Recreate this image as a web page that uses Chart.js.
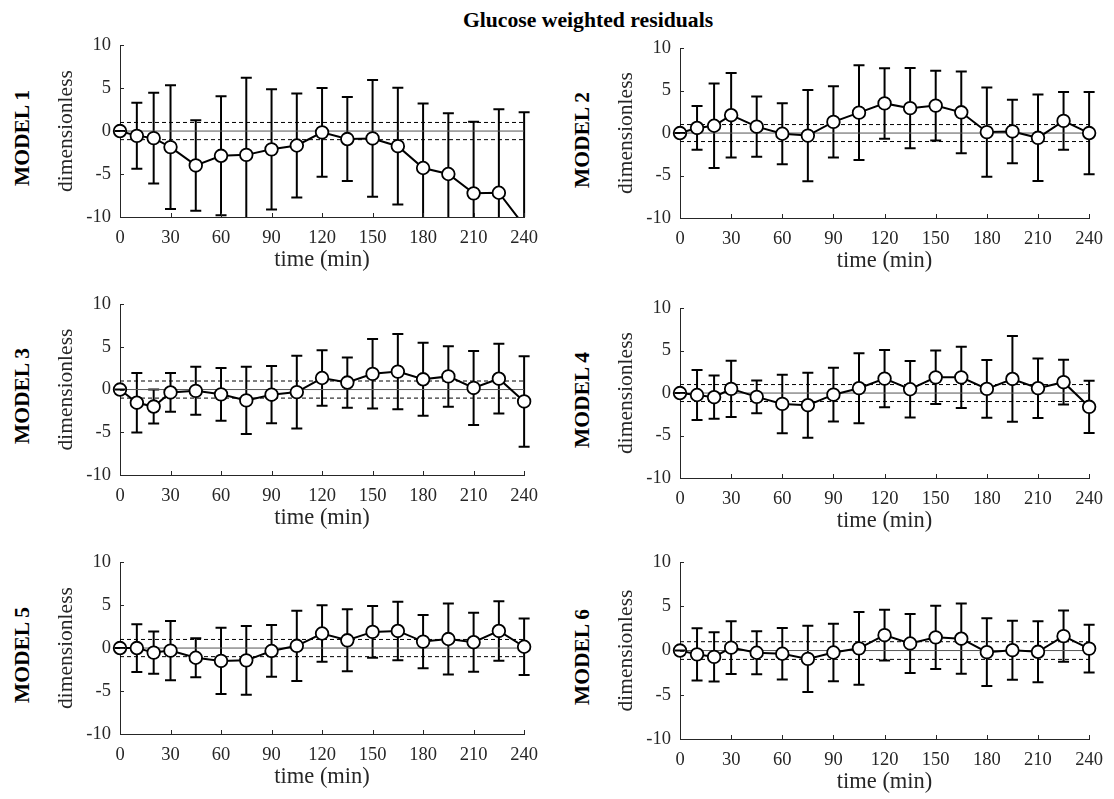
<!DOCTYPE html>
<html><head><meta charset="utf-8">
<script src="https://cdn.jsdelivr.net/npm/chart.js@4.4.1/dist/chart.umd.min.js"></script>
<style>
html,body{margin:0;padding:0;background:#fff;width:1114px;height:799px;overflow:hidden;position:relative;font-family:"Liberation Serif","Times New Roman",serif;}
canvas{position:absolute;}
#title{position:absolute;left:388px;width:400px;top:8px;text-align:center;font-weight:bold;font-size:21.7px;line-height:25px;color:#000;white-space:nowrap;}
.model{position:absolute;font-weight:bold;font-size:21.5px;line-height:25px;white-space:nowrap;color:#000;transform:translate(-50%,-50%) rotate(-90deg);}
</style></head><body>
<div id="title">Glucose weighted residuals</div>
<script>
// ---- data ----
const times = [0,10,20,30,45,60,75,90,105,120,135,150,165,180,195,210,225,240];
const xTickValues = [0,30,60,90,120,150,180,210,240];
const yTickValues = [-10,-5,0,5,10];
const refLevels = [0, 1, -1];

const model1Mean = [0,-0.56,-0.82,-1.87,-4.0,-2.88,-2.77,-2.13,-1.68,-0.15,-0.93,-0.86,-1.76,-4.3,-5.0,-7.25,-7.18,-11.0];
const model1Err  = [0,3.84,5.28,7.2,5.27,6.92,8.98,6.99,6.06,5.16,4.88,6.79,6.79,7.51,7.06,8.33,9.72,13.2];

const model2Mean = [0,0.6,0.86,2.1,0.75,-0.08,-0.3,1.31,2.4,3.49,2.93,3.23,2.44,0.11,0.19,-0.56,1.43,0];
const model2Err  = [0,2.57,4.98,4.97,3.55,3.6,5.37,4.19,5.57,4.15,4.72,4.1,4.82,5.25,3.74,5.09,3.4,4.84];

const model3Mean = [0,-1.54,-1.99,-0.34,-0.15,-0.56,-1.27,-0.6,-0.3,1.35,0.82,1.84,2.1,1.2,1.54,0.19,1.27,-1.39];
const model3Err  = [0,3.49,1.99,2.27,2.81,3.09,3.94,3.35,4.27,3.24,2.94,4.07,4.4,4.27,3.54,4.33,4.08,5.3];

const model4Mean = [0,-0.23,-0.49,0.49,-0.45,-1.28,-1.43,-0.19,0.57,1.7,0.45,1.85,1.85,0.49,1.66,0.57,1.28,-1.62];
const model4Err  = [0,2.93,2.55,3.32,1.93,3.44,3.83,3.17,4.12,3.36,3.32,3.15,3.6,3.4,5.05,3.51,2.63,3.08];

const model5Mean = [0,0,-0.53,-0.3,-1.13,-1.5,-1.43,-0.34,0.26,1.69,0.9,1.88,1.99,0.75,1.05,0.68,1.99,0.15];
const model5Err  = [0,2.78,2.45,3.46,2.28,3.86,3.99,3.01,4.08,3.29,3.61,3.01,3.41,3.1,4.12,3.44,3.46,3.29];

const model6Mean = [0,-0.43,-0.72,0.33,-0.25,-0.36,-0.94,-0.22,0.25,1.74,0.8,1.49,1.34,-0.18,0.04,-0.14,1.63,0.22];
const model6Err  = [0,2.95,2.79,2.99,2.43,2.92,3.75,3.24,4.12,2.86,3.34,3.57,3.97,3.84,3.34,3.44,2.9,2.7];

const modelNames = ['MODEL 1','MODEL 2','MODEL 3','MODEL 4','MODEL 5','MODEL 6'];
const means = [model1Mean,model2Mean,model3Mean,model4Mean,model5Mean,model6Mean];
const errs  = [model1Err,model2Err,model3Err,model4Err,model5Err,model6Err];

// ---- layout (plot-area pixel boxes) ----
const boxes = [
  {left:120, right:530,  top:38,  bottom:217},
  {left:680, right:1095, top:41,  bottom:218},
  {left:120, right:530,  top:297, bottom:475},
  {left:680, right:1095, top:301, bottom:478},
  {left:120, right:530,  top:555, bottom:734},
  {left:680, right:1095, top:555, bottom:739}
];
const Y_AXIS_W = 79, X_AXIS_H = 58, PAD_TOP = 13, PAD_RIGHT = 18;
const AXIS_COLOR = '#262626';

Chart.defaults.font.family = '"Liberation Serif","Times New Roman",serif';
Chart.defaults.color = AXIS_COLOR;

const errorBarPlugin = {
  id: 'errbars',
  beforeDatasetsDraw(chart) { drawBars(chart, false); },
  afterDatasetsDraw(chart) { drawBars(chart, true); }
};
function drawBars(chart, zeroOnly) {
  const {ctx, chartArea: a, scales: {x, y}} = chart;
  ctx.save();
  ctx.beginPath();
  ctx.rect(a.left - 12, a.top - 12, a.right - a.left + 24, a.bottom - a.top + 12);
  ctx.clip();
  ctx.strokeStyle = '#000';
  ctx.lineWidth = 2;
  chart.data.datasets.forEach(ds => {
    if (!ds.errors) return;
    ds.data.forEach((p, i) => {
      const e = ds.errors[i];
      if (zeroOnly !== (e === 0)) return;
      const px = x.getPixelForValue(p.x);
      const pHi = y.getPixelForValue(p.y + e);
      const pLo = y.getPixelForValue(p.y - e);
      const cap = 5.5;
      ctx.beginPath();
      if (e !== 0) { ctx.moveTo(px, pHi); ctx.lineTo(px, pLo); }
      ctx.moveTo(px - cap, pHi); ctx.lineTo(px + cap, pHi);
      ctx.moveTo(px - cap, pLo); ctx.lineTo(px + cap, pLo);
      ctx.stroke();
    });
  });
  ctx.restore();
}
const inwardTicks = {
  id: 'inticks',
  afterDraw(chart) {
    const {ctx, chartArea: a, scales: {x, y}} = chart;
    ctx.save();
    ctx.strokeStyle = AXIS_COLOR;
    ctx.lineWidth = 1;
    ctx.beginPath();
    x.ticks.forEach(t => { const px = Math.round(x.getPixelForValue(t.value)) + 0.5; ctx.moveTo(px, a.bottom); ctx.lineTo(px, a.bottom - 4); });
    y.ticks.forEach(t => { const py = Math.round(y.getPixelForValue(t.value)) + 0.5; ctx.moveTo(a.left, py); ctx.lineTo(a.left + 4, py); });
    ctx.stroke();
    ctx.restore();
  }
};

boxes.forEach((b, k) => {
  const cv = document.createElement('canvas');
  const w = Y_AXIS_W + (b.right - b.left) + PAD_RIGHT;
  const h = PAD_TOP + (b.bottom - b.top) + X_AXIS_H;
  cv.width = w; cv.height = h;
  cv.style.left = (b.left - Y_AXIS_W) + 'px';
  cv.style.top = (b.top - PAD_TOP) + 'px';
  cv.style.width = w + 'px'; cv.style.height = h + 'px';
  document.body.appendChild(cv);

  const lbl = document.createElement('div');
  lbl.className = 'model';
  lbl.textContent = modelNames[k];
  lbl.style.left = (b.left - 98) + 'px';
  lbl.style.top = ((b.top + b.bottom) / 2 + 10) + 'px';
  document.body.appendChild(lbl);

  const refSets = refLevels.map(v => ({
    data: [{x: times[0], y: v}, {x: times[times.length - 1], y: v}],
    borderColor: v === 0 ? '#555555' : '#000000',
    borderWidth: 1,
    borderDash: v === 0 ? [] : [4, 3],
    pointRadius: 0,
    clip: 0
  }));

  new Chart(cv, {
    type: 'line',
    data: {
      datasets: [{
        data: times.map((t, i) => ({x: t, y: means[k][i]})),
        errors: errs[k],
        borderColor: '#000',
        borderWidth: 2,
        pointRadius: 6.3,
        pointBorderWidth: 1.8,
        pointBackgroundColor: '#fff',
        pointBorderColor: '#000',
        tension: 0,
        clip: {left: 12, top: 12, right: 12, bottom: 0}
      }].concat(refSets)
    },
    options: {
      responsive: false,
      animation: false,
      devicePixelRatio: 1,
      events: [],
      layout: {padding: {top: PAD_TOP, right: PAD_RIGHT, left: 0, bottom: 0}},
      plugins: {legend: {display: false}, tooltip: {enabled: false}},
      scales: {
        x: {
          type: 'linear', min: 0, max: 240,
          afterBuildTicks: s => { s.ticks = xTickValues.map(v => ({value: v})); },
          afterFit: s => { s.height = X_AXIS_H; },
          grid: {display: false, drawTicks: false},
          border: {display: true, color: AXIS_COLOR, width: 1},
          ticks: {font: {size: 18.5, lineHeight: 1.2}, padding: 10, maxRotation: 0, autoSkip: false, color: AXIS_COLOR},
          title: {display: true, text: 'time (min)', font: {size: 22.5, lineHeight: 1.2}, padding: {top: 0, bottom: 1}, color: AXIS_COLOR}
        },
        y: {
          type: 'linear', min: -10, max: 10,
          afterBuildTicks: s => { s.ticks = yTickValues.map(v => ({value: v})); },
          afterFit: s => { s.width = Y_AXIS_W; },
          grid: {display: false, drawTicks: false},
          border: {display: true, color: AXIS_COLOR, width: 1},
          ticks: {font: {size: 18.5, lineHeight: 1.2}, padding: 9, autoSkip: false, color: AXIS_COLOR},
          title: {display: true, text: 'dimensionless', font: {size: 21.5, lineHeight: 1.2}, padding: {top: 12.5, bottom: 0}, color: AXIS_COLOR}
        }
      }
    },
    plugins: [errorBarPlugin, inwardTicks]
  });
});
</script>
</body></html>
